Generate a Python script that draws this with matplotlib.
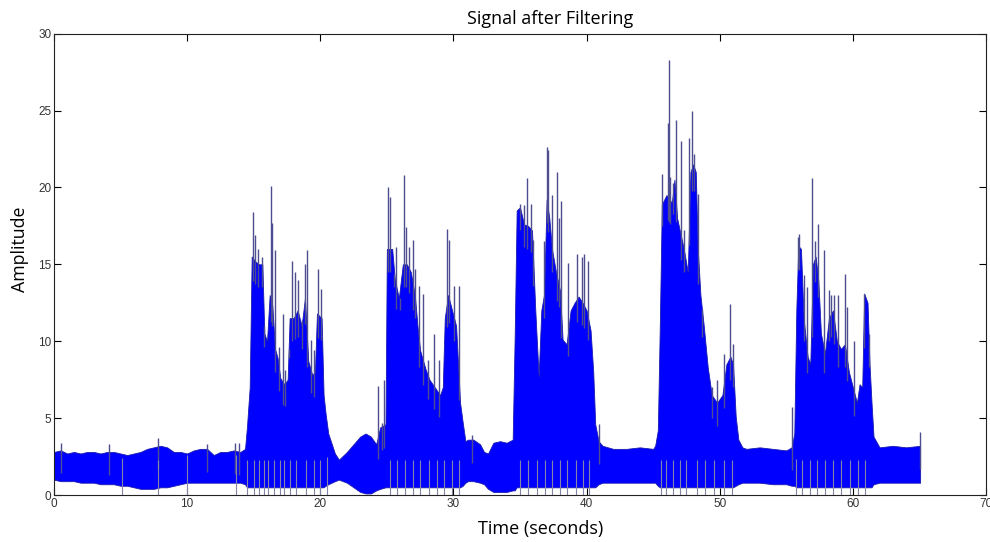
import numpy as np
import matplotlib
matplotlib.use('Agg')
import matplotlib.pyplot as plt

# envelope of the filtered signal (seconds, amplitude)
t_env = [0, 0.5, 1, 1.5, 2, 2.5, 3, 3.5, 4, 4.5, 5, 5.5, 6, 6.5, 7, 7.5, 8, 8.5, 9, 9.5,
         10, 10.5, 11, 11.5, 12, 12.5, 13, 13.5, 14,
         14.35, 14.5, 14.7, 14.85, 15.1, 15.4, 15.65, 15.8, 16.0, 16.2, 16.4, 16.6, 16.8,
         17.0, 17.3, 17.55, 17.7, 18.0, 18.3, 18.6, 18.85, 19.1, 19.4, 19.6, 19.75, 20.1,
         20.25, 20.4, 20.6, 21.1, 21.4, 22.0, 22.5, 23.0, 23.4, 23.8, 24.2,
         24.5, 24.9, 25.0, 25.4, 25.6, 25.9, 26.2, 26.5, 26.8, 27.1, 27.3, 27.5, 27.9,
         28.2, 28.6, 29.0, 29.2, 29.35, 29.6, 29.9, 30.2, 30.5, 30.7, 30.9, 31.1, 31.5,
         32.0, 32.3, 32.6, 33.0, 33.5, 34.0, 34.45,
         34.6, 34.75, 35.0, 35.3, 35.6, 35.9, 36.15, 36.4, 36.6, 36.8, 37.0, 37.2, 37.4,
         37.7, 38.0, 38.2, 38.5, 38.8, 39.1, 39.4, 39.7, 40.0, 40.3, 40.5, 40.65, 40.9,
         41.2, 42, 43, 44, 45.0,
         45.15, 45.35, 45.5, 45.65, 46.0, 46.4, 46.6, 46.8, 47.0, 47.3, 47.6, 47.8, 48.0,
         48.2, 48.35, 48.55, 48.8, 49.1, 49.4, 49.8, 50.2, 50.5, 50.8, 51.0, 51.2, 51.4, 51.7,
         52, 53, 54, 55, 55.4,
         55.6, 55.75, 55.9, 56.1, 56.3, 56.6, 56.8, 57.0, 57.2, 57.4, 57.6, 57.9, 58.2,
         58.5, 58.8, 59.1, 59.4, 59.7, 60.0, 60.3, 60.5, 60.7, 60.85, 61.1, 61.25, 61.4,
         61.55, 62, 63, 64, 65.05]
env_top = [2.8, 2.9, 2.7, 2.8, 2.7, 2.8, 2.8, 2.7, 2.8, 2.8, 2.7, 2.6, 2.7, 2.8, 3.0, 3.1, 3.2, 3.1, 2.8, 2.8,
           2.7, 2.9, 3.0, 3.0, 2.6, 2.8, 2.8, 2.9, 2.8,
           3.0, 4.5, 7.0, 15.5, 15.2, 15.0, 15.0, 10.5, 10.0, 13.0, 12.3, 9.5, 8.9,
           7.6, 7.2, 7.5, 11.5, 11.5, 12.0, 11.0, 12.8, 8.7, 7.8, 8.0, 11.8, 11.5,
           6.5, 5.3, 4.0, 2.7, 2.3, 2.8, 3.3, 3.8, 4.0, 3.8, 3.3,
           4.4, 4.6, 16.0, 16.0, 14.0, 12.8, 15.0, 15.0, 14.5, 13.0, 11.0, 9.4, 8.2,
           7.5, 7.0, 6.5, 7.0, 11.5, 13.0, 12.0, 11.0, 6.0, 4.7, 3.5, 3.6, 3.6,
           3.3, 2.8, 2.7, 3.4, 3.5, 3.4, 3.6,
           10.3, 18.5, 18.7, 17.6, 17.5, 17.2, 12.0, 7.7, 12.0, 13.0, 19.2, 18.0, 16.0,
           14.5, 13.3, 10.1, 9.8, 12.0, 12.5, 12.9, 12.5, 12.0, 10.7, 8.0, 4.6, 3.5,
           3.2, 3.0, 3.0, 3.1, 3.0,
           3.2, 4.2, 11.0, 18.9, 19.5, 19.0, 20.5, 18.0, 17.2, 16.0, 14.5, 21.0, 21.5,
           21.0, 16.0, 13.0, 11.0, 8.3, 6.5, 6.0, 6.5, 8.5, 9.0, 8.5, 5.1, 3.6, 3.1,
           3.0, 3.1, 3.0, 2.9, 3.1,
           4.0, 12.0, 16.2, 16.0, 11.5, 9.0, 8.5, 15.0, 15.5, 14.0, 10.5, 9.2, 11.5,
           12.0, 10.0, 9.5, 9.8, 8.0, 7.0, 6.0, 7.2, 7.0, 13.1, 12.5, 8.5, 6.0,
           3.8, 3.1, 3.2, 3.1, 3.2]
env_bot = [1.0, 0.9, 0.9, 0.9, 0.8, 0.8, 0.8, 0.7, 0.7, 0.7, 0.6, 0.6, 0.5, 0.4, 0.4, 0.4, 0.5, 0.5, 0.6, 0.7,
           0.8, 0.8, 0.8, 0.8, 0.8, 0.8, 0.8, 0.8, 0.8,
           0.7, 0.5, 0.5, 0.5, 0.5, 0.5, 0.5, 0.5, 0.5, 0.5, 0.5, 0.5, 0.5,
           0.5, 0.5, 0.5, 0.5, 0.5, 0.5, 0.5, 0.5, 0.5, 0.5, 0.5, 0.5, 0.5,
           0.5, 0.6, 0.7, 0.9, 1.0, 0.8, 0.5, 0.2, 0.1, 0.1, 0.3,
           0.4, 0.5, 0.5, 0.5, 0.5, 0.5, 0.5, 0.5, 0.5, 0.5, 0.5, 0.5, 0.5,
           0.5, 0.5, 0.5, 0.5, 0.5, 0.5, 0.5, 0.5, 0.5, 0.6, 0.8, 0.9, 0.9,
           0.8, 0.7, 0.4, 0.2, 0.2, 0.2, 0.3,
           0.3, 0.5, 0.5, 0.5, 0.5, 0.5, 0.5, 0.5, 0.5, 0.5, 0.5, 0.5, 0.5,
           0.5, 0.5, 0.5, 0.5, 0.5, 0.5, 0.5, 0.5, 0.5, 0.5, 0.5, 0.5, 0.7,
           0.8, 0.8, 0.8, 0.8, 0.8,
           0.8, 0.6, 0.5, 0.5, 0.5, 0.5, 0.5, 0.5, 0.5, 0.5, 0.5, 0.5, 0.5,
           0.5, 0.5, 0.5, 0.5, 0.5, 0.5, 0.5, 0.5, 0.5, 0.5, 0.5, 0.6, 0.7, 0.8,
           0.8, 0.8, 0.7, 0.7, 0.6,
           0.6, 0.5, 0.5, 0.5, 0.5, 0.5, 0.5, 0.5, 0.5, 0.5, 0.5, 0.5, 0.5,
           0.5, 0.5, 0.5, 0.5, 0.5, 0.5, 0.5, 0.5, 0.5, 0.5, 0.5, 0.5, 0.5,
           0.7, 0.8, 0.8, 0.8, 0.8]

# isolated peaks sticking out above the envelope
spike_t = [0.5, 4.1, 7.8, 11.5, 13.6, 13.9,
           14.93, 15.1, 15.35, 15.6, 15.78, 16.28, 16.35, 16.6, 16.9, 17.18, 17.35, 17.68,
           17.86, 18.1, 18.36, 18.6, 18.86, 19.03, 19.3, 19.5, 19.86, 20.04,
           24.35, 24.6, 24.8,
           25.1, 25.2, 25.5, 25.7, 26.0, 26.3, 26.45, 26.7, 27.0, 27.1, 27.45, 27.75,
           28.1, 28.55, 28.95, 29.5, 29.7, 30.05, 30.4, 31.4,
           35.0, 35.3, 35.56, 35.8, 36.0, 36.8, 37.0, 37.1, 37.4, 37.8, 37.9, 38.1,
           38.6, 39.3, 39.65, 39.8, 40.1, 40.9,
           45.7, 46.1, 46.2, 46.3, 46.5, 46.7, 47.1, 47.3, 47.7, 47.9, 48.1, 48.4,
           48.7, 49.4, 49.8, 50.3, 50.8, 51.0,
           55.4, 55.9, 55.95, 56.3, 56.55, 56.9, 57.15, 57.35, 57.85, 58.2, 58.35, 58.6,
           58.9, 59.4, 59.55, 60.1, 60.8, 61.2, 65.05]
spike_y = [3.4, 3.3, 3.7, 3.3, 3.4, 3.4,
           18.4, 16.9, 16.0, 15.5, 11.0, 20.1, 17.7, 15.9, 9.6, 11.8, 8.1, 8.9,
           15.2, 14.5, 14.0, 11.4, 15.0, 15.9, 10.1, 9.4, 14.7, 13.4,
           7.1, 4.7, 7.5,
           20.0, 19.4, 14.4, 16.1, 12.8, 20.8, 17.4, 16.1, 16.6, 14.7, 13.6, 13.1,
           8.8, 10.5, 8.8, 17.3, 16.6, 13.6, 13.6, 3.9,
           18.95, 18.85, 20.6, 18.95, 16.6, 16.5, 22.6, 22.4, 19.5, 21.0, 18.0, 19.1,
           15.1, 15.7, 15.5, 15.7, 15.2, 4.6,
           20.9, 24.2, 28.3, 20.7, 20.3, 24.4, 23.0, 17.2, 23.2, 25.0, 22.2, 19.6,
           12.1, 7.0, 7.5, 9.2, 12.4, 9.8,
           5.7, 16.8, 17.0, 14.3, 13.5, 20.6, 16.5, 17.6, 15.9, 13.3, 13.0, 13.0,
           13.0, 14.4, 12.2, 10.0, 13.1, 10.5, 4.1]

# dips that reach down to zero
dip_t = [5.1, 7.8, 10.0, 13.65,
         14.5, 15.0, 15.4, 15.8, 16.1, 16.5, 17.0, 17.3, 17.7, 18.2, 18.9, 19.5, 20.0, 20.5,
         25.2, 25.8, 26.4, 27.0, 27.5, 28.2, 28.8, 29.3, 29.9, 30.4,
         35.0, 35.6, 36.3, 36.9, 37.4, 38.0, 38.5, 39.2, 39.7, 40.2,
         45.6, 46.0, 46.5, 47.0, 47.5, 48.3, 48.9, 49.6, 50.3, 50.9,
         55.7, 56.2, 56.8, 57.3, 57.9, 58.5, 59.1, 59.8, 60.4, 60.9]

fig = plt.figure(figsize=(9.9, 5.42), dpi=100)
ax = fig.add_axes([0.0545, 0.0867, 0.9415, 0.8513])

ax.fill_between(t_env, env_bot, env_top, color='#0000ff', lw=0.6, edgecolor='#1a1ab0')
base = np.interp(spike_t, t_env, env_top)
ax.vlines(spike_t, base - 1.5, spike_y, color='#4d4d8f', lw=1.0)
ax.vlines(dip_t, 0, np.interp(dip_t, t_env, env_bot) + 1.8, color='#8585a8', lw=0.8)

ax.set_xlim(0, 70)
ax.set_ylim(0, 30)
ax.set_xticks(range(0, 71, 10))
ax.set_yticks(range(0, 31, 5))
ax.tick_params(direction='in', top=True, right=True, length=5, width=0.8,
               labelsize=8.5, labelcolor='#333333', pad=2)
for lab in ax.get_xticklabels() + ax.get_yticklabels():
    lab.set_family('Liberation Sans')
for s in ax.spines.values():
    s.set_linewidth(0.8)
    s.set_color('#222222')

ax.set_title('Signal after Filtering', fontsize=13, family='Open Sans', x=0.532, pad=7)
ax.set_xlabel('Time (seconds)', fontsize=13, family='Open Sans', labelpad=2)
ax.xaxis.set_label_coords(0.522, -0.055)
ax.set_ylabel('Amplitude', fontsize=12.8, family='Open Sans', labelpad=6)
ax.yaxis.set_label_coords(-0.027, 0.533)

fig.savefig('out.png', dpi=100)
